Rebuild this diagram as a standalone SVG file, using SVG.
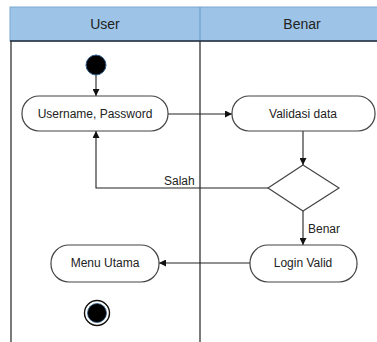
<svg xmlns="http://www.w3.org/2000/svg" width="377" height="342" viewBox="0 0 377 342">
  <style>
    text { font-family: "Liberation Sans", "DejaVu Sans", sans-serif; fill: #222; }
    .hdr { font-size: 14px; text-anchor: middle; }
    .lbl { font-size: 12px; text-anchor: middle; }
    .edge-lbl { font-size: 12px; }
    .act { fill: #fff; stroke: #444; stroke-width: 1.2; }
    .lane { stroke: #333; stroke-width: 1.3; fill: none; }
    .flow { stroke: #222; stroke-width: 1.1; fill: none; }
  </style>
  <defs>
    <marker id="arrow" viewBox="0 0 8 8" refX="8" refY="4" markerWidth="7" markerHeight="7" markerUnits="userSpaceOnUse" orient="auto">
      <path d="M0,0 L8,4 L0,8 Z" fill="#111"/>
    </marker>
  </defs>

  <rect width="377" height="342" fill="#fff"/>

  <!-- swimlanes -->
  <g id="lanes">
    <rect x="10" y="7" width="370" height="34" fill="#9dc3e6" stroke="#7fa9d3" stroke-width="1"/>
    <line x1="200" y1="7" x2="200" y2="41" stroke="#6f9fcf" stroke-width="1.2"/>
    <line x1="10" y1="41" x2="377" y2="41" stroke="#1f2a3a" stroke-width="1.3"/>
    <line class="lane" x1="11" y1="41" x2="11" y2="342"/>
    <line class="lane" x1="200" y1="41" x2="200" y2="342"/>
    <text class="hdr" x="105" y="29">User</text>
    <text class="hdr" x="302" y="29">Benar</text>
  </g>

  <!-- connectors -->
  <g id="connectors">
    <line class="flow" x1="96" y1="75" x2="96" y2="96" marker-end="url(#arrow)"/>
    <line class="flow" x1="168" y1="114" x2="232" y2="114" marker-end="url(#arrow)"/>
    <line class="flow" x1="303" y1="131" x2="303" y2="165" marker-end="url(#arrow)"/>
    <polyline class="flow" points="268,188 96,188 96,131" marker-end="url(#arrow)"/>
    <text class="edge-lbl" x="164" y="185">Salah</text>
    <line class="flow" x1="303" y1="211" x2="303" y2="245" marker-end="url(#arrow)"/>
    <text class="edge-lbl" x="308" y="233">Benar</text>
    <line class="flow" x1="250" y1="263" x2="159" y2="263" marker-end="url(#arrow)"/>
  </g>

  <!-- nodes -->
  <g id="start">
    <circle cx="96" cy="65" r="10" fill="#000" stroke="#2f5f8f" stroke-width="1"/>
  </g>
  <g id="username-password">
    <rect class="act" x="22" y="96" width="146" height="35" rx="17" ry="17"/>
    <text class="lbl" x="95" y="118">Username, Password</text>
  </g>
  <g id="validasi-data">
    <rect class="act" x="232" y="96" width="143" height="35" rx="17" ry="17"/>
    <text class="lbl" x="303" y="118">Validasi data</text>
  </g>
  <g id="decision">
    <polygon points="303,165 339,188 303,211 268,188" fill="#fff" stroke="#444" stroke-width="1.2"/>
  </g>
  <g id="login-valid">
    <rect class="act" x="250" y="245" width="107" height="37" rx="18" ry="18"/>
    <text class="lbl" x="303" y="267">Login Valid</text>
  </g>
  <g id="menu-utama">
    <rect class="act" x="51" y="245" width="108" height="37" rx="18" ry="18"/>
    <text class="lbl" x="105" y="267">Menu Utama</text>
  </g>
  <g id="end">
    <circle cx="97" cy="313" r="12.5" fill="#fff" stroke="#111" stroke-width="1.4"/>
    <circle cx="97" cy="313" r="9.5" fill="#000" stroke="#2f5f8f" stroke-width="0.8"/>
  </g>
</svg>
